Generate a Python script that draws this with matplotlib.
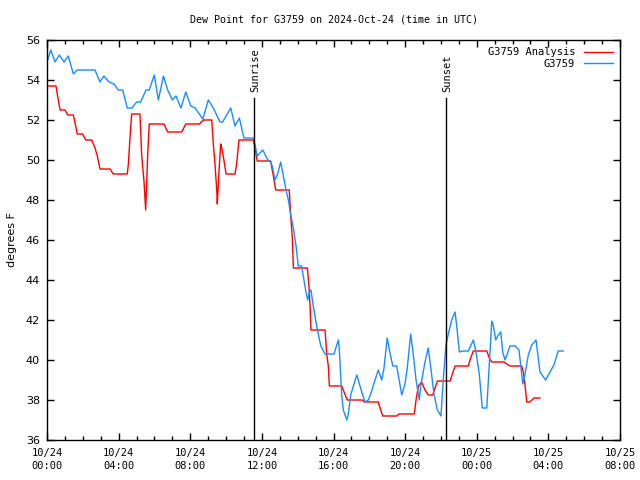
import matplotlib
matplotlib.use("Agg")
import matplotlib.pyplot as plt
from matplotlib.ticker import FixedLocator, MultipleLocator

# hours after 10/24 00:00 UTC
obs_hours = [0.00, 0.21, 0.45, 0.69, 0.95, 1.19, 1.47, 1.69, 2.68, 2.96, 3.18, 3.46, 3.74, 3.98,
             4.23, 4.48, 4.73, 5.01, 5.23, 5.53, 5.71, 5.99, 6.22, 6.50, 6.74, 7.00, 7.20, 7.48,
             7.75, 8.03, 8.27, 8.70, 9.01, 9.29, 9.66, 9.81, 10.26, 10.50, 10.74, 11.00, 11.52,
             11.62, 11.74, 12.05, 12.33, 12.45, 12.58, 12.73, 12.88, 13.05, 13.20, 13.35, 13.48,
             13.61, 13.76, 13.91, 14.03, 14.22, 14.35, 14.46, 14.56, 14.65, 14.74, 14.87, 15.02,
             15.15, 15.29, 15.53, 16.03, 16.18, 16.27, 16.32, 16.46, 16.55, 16.74, 16.83, 16.96,
             17.15, 17.30, 17.48, 17.63, 17.76, 17.95, 18.13, 18.32, 18.50, 18.69, 18.82, 19.00,
             19.19, 19.31, 19.53, 19.71, 19.81, 19.99, 20.12, 20.31, 20.46, 20.61, 20.79, 20.87,
             21.11, 21.29, 21.45, 21.61, 21.80, 22.00, 22.13, 22.28, 22.41, 22.60, 22.79, 22.88,
             23.03, 23.22, 23.53, 23.81, 23.96, 24.14, 24.31, 24.56, 24.70, 24.84, 24.92, 25.06,
             25.17, 25.34, 25.45, 25.58, 25.86, 26.14, 26.36, 26.51, 26.57, 26.69, 26.88, 27.07,
             27.31, 27.53, 27.85, 28.09, 28.31, 28.55, 28.83]
obs_dewpt = [54.9, 55.5, 54.9, 55.25, 54.9, 55.2, 54.3, 54.5, 54.5, 53.9, 54.2, 53.9, 53.8, 53.5,
             53.5, 52.6, 52.6, 52.9, 52.9, 53.5, 53.5, 54.25, 53.0, 54.2, 53.5, 53.0, 53.2, 52.6,
             53.4, 52.7, 52.6, 52.05, 53.0, 52.6, 51.9, 51.9, 52.6, 51.7, 52.1, 51.1, 51.1,
             50.75, 50.2, 50.5, 50.0, 49.95, 49.7, 49.0, 49.3, 49.9, 49.2, 48.5, 48.0,
             47.25, 46.6, 45.7, 44.7, 44.7, 44.0, 43.4, 43.0, 43.4, 43.5, 42.7, 41.9,
             41.3, 40.7, 40.3, 40.3, 40.75, 41.0, 40.6, 38.2, 37.5, 37.0, 37.3, 38.25,
             38.8, 39.25, 38.7, 38.25, 37.9, 38.0, 38.45, 39.0, 39.5, 39.0, 39.6, 41.1,
             40.2, 39.7, 39.7, 38.75, 38.25, 38.8, 39.6, 41.3, 40.25, 39.0, 38.0, 38.7,
             39.9, 40.6, 39.5, 38.3, 37.5, 37.2, 39.0, 40.75, 41.3, 42.0, 42.4, 41.7,
             40.4, 40.45, 40.45, 41.0, 40.4, 39.3, 37.6, 37.6, 39.8, 41.95, 41.75, 41.0,
             41.2, 41.4, 40.4, 40.0, 40.7, 40.7, 40.5, 39.3, 38.8, 39.25, 40.25, 40.75,
             41.0, 39.4, 39.0, 39.4, 39.75, 40.45, 40.45]

ana_hours = [0.00, 0.50, 0.63, 0.73, 1.00, 1.16, 1.47, 1.60, 1.69, 1.99, 2.16, 2.50, 2.68, 2.81,
             2.96, 3.52, 3.70, 4.48, 4.54, 4.64, 4.73, 5.19, 5.29, 5.42, 5.51, 5.57, 5.62, 5.71,
             6.53, 6.74, 7.52, 7.75, 8.51, 8.73, 9.20, 9.29, 9.38, 9.48, 9.51, 9.61, 9.70, 9.76,
             9.88, 10.00, 10.50, 10.59, 10.72, 11.52, 11.62, 11.74, 12.49, 12.60, 12.68, 12.77,
             13.53, 13.61, 13.70, 13.76, 14.54, 14.63, 14.69, 14.74, 15.53, 15.62, 15.71, 15.77,
             16.46, 16.59, 16.77, 17.61, 17.72, 18.50, 18.60, 18.75, 19.53, 19.66, 20.51, 20.61,
             20.74, 20.92, 21.11, 21.29, 21.54, 21.67, 21.80, 22.51, 22.60, 22.79, 23.53, 23.62,
             23.81, 24.56, 24.70, 24.84, 25.52, 25.67, 25.86, 26.51, 26.60, 26.69, 26.79, 26.97,
             27.20, 27.53]
ana_dewpt = [53.7, 53.7, 53.0, 52.5, 52.5, 52.25, 52.25, 51.7, 51.3, 51.3, 51.0, 51.0, 50.6, 50.2,
             49.55, 49.55, 49.3, 49.3, 49.75, 51.2, 52.3, 52.3, 50.2, 48.9, 47.5, 48.9, 50.2, 51.8,
             51.8, 51.4, 51.4, 51.8, 51.8, 52.0, 52.0, 50.8, 49.8, 48.5, 47.8, 49.5, 50.8, 50.6,
             50.0, 49.3, 49.3, 49.8, 51.0, 51.0, 50.6, 49.95, 49.95, 49.4, 49.0, 48.5,
             48.5, 47.2, 46.1, 44.6, 44.6, 43.7, 42.7, 41.5, 41.5, 40.3, 39.7, 38.7,
             38.7, 38.4, 38.0, 38.0, 37.9, 37.9, 37.6, 37.2, 37.2, 37.3, 37.3, 38.0,
             38.7, 38.9, 38.5, 38.25, 38.25, 38.6, 38.95, 38.95, 39.2, 39.7, 39.7, 40.0,
             40.45, 40.45, 40.1, 39.9, 39.9, 39.8, 39.7, 39.7, 39.4, 38.8, 37.9, 37.9,
             38.1, 38.1]

sunrise_hour = 11.56
sunset_hour = 22.28
tick_hours = [0, 4, 8, 12, 16, 20, 24, 28, 32]
tick_labels = ["10/24\n00:00", "10/24\n04:00", "10/24\n08:00", "10/24\n12:00", "10/24\n16:00",
               "10/24\n20:00", "10/25\n00:00", "10/25\n04:00", "10/25\n08:00"]

mono = "DejaVu Sans Mono"

fig = plt.figure(figsize=(6.4, 4.8), dpi=100)
ax = fig.add_axes([47 / 640, 40 / 480, 573 / 640, 400 / 480])

ax.plot(ana_hours, ana_dewpt, color="#ff0000", lw=1.0, label="G3759 Analysis")
ax.plot(obs_hours, obs_dewpt, color="#1a8cff", lw=1.0, label="G3759")

# sunrise / sunset markers
for h, name in [(sunrise_hour, "Sunrise"), (sunset_hour, "Sunset")]:
    ax.plot([h, h], [36, 53.1], color="black", lw=1.0)
    ax.text(h + 0.05, 53.4, name, rotation=90, ha="center", va="bottom",
            fontsize=7.5, family=mono)

ax.set_xlim(0, 32)
ax.set_ylim(36, 56)
ax.xaxis.set_major_locator(FixedLocator(tick_hours))
ax.set_xticklabels(tick_labels, family=mono, fontsize=7.5, linespacing=1.3)
ax.xaxis.set_minor_locator(MultipleLocator(1))
ax.yaxis.set_major_locator(MultipleLocator(2))
for lbl in ax.get_yticklabels():
    lbl.set_fontsize(8)
ax.tick_params(which="major", direction="in", length=5, width=1, top=True, right=True, pad=5)
ax.tick_params(axis="x", which="major", pad=6)
ax.tick_params(which="minor", direction="in", length=3, width=1, top=True, right=True)
for s in ax.spines.values():
    s.set_linewidth(1.0)

ax.set_ylabel("degrees F", fontsize=8, labelpad=6)
ax.set_title("Dew Point for G3759 on 2024-Oct-24 (time in UTC)", family=mono,
             fontsize=7.2, pad=12.5)

ax.legend(loc="upper right", frameon=False, markerfirst=False, prop={"family": mono, "size": 7.5},
          handlelength=2.8, labelspacing=0.15, borderaxespad=0.3, handletextpad=0.8)

fig.savefig("out.png", dpi=100)
